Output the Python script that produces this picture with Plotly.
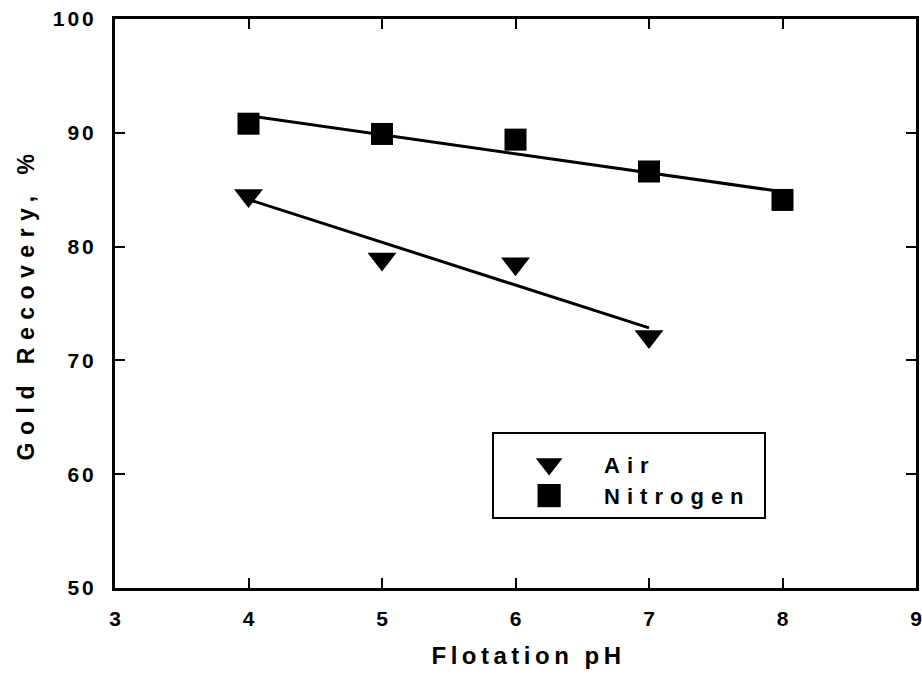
import numpy as np
import plotly.graph_objects as go

ph_air = [4, 5, 6, 7]
rec_air = [84.5, 78.9, 78.5, 72.1]
ph_n2 = [4, 5, 6, 7, 8]
rec_n2 = [90.8, 89.9, 89.4, 86.6, 84.1]

x_ticks = [3, 4, 5, 6, 7, 8, 9]
y_ticks = [50, 60, 70, 80, 90, 100]

FONT = "Liberation Sans, Arial, sans-serif"

fig = go.Figure()

def fit_line(x, y):
    k, b = np.polyfit(x, y, 1)
    xs = np.array([min(x), max(x)], dtype=float)
    return xs, k * xs + b

for x, y in [(ph_air, rec_air), (ph_n2, rec_n2)]:
    fx, fy = fit_line(x, y)
    fig.add_trace(go.Scatter(x=fx, y=fy, mode="lines", showlegend=False,
                             line=dict(color="black", width=3), hoverinfo="skip"))

fig.add_trace(go.Scatter(x=ph_air, y=rec_air, mode="markers", name="Air",
                         marker=dict(symbol="triangle-down", size=25, color="black")))
fig.add_trace(go.Scatter(x=ph_n2, y=rec_n2, mode="markers", name="Nitrogen",
                         marker=dict(symbol="square", size=22, color="black")))

axis_common = dict(showline=True, linecolor="black", linewidth=3, mirror="allticks",
                   ticks="inside", ticklen=10, tickwidth=2, tickcolor="black",
                   showgrid=False, zeroline=False, automargin=False,
                   tickfont=dict(family=FONT, size=21, color="black", weight="bold"))

fig.update_xaxes(range=[3, 9], tickvals=x_ticks, ticklabelstandoff=10,
                 title=dict(text="Flotation pH", standoff=18,
                            font=dict(family=FONT, size=24, color="black", weight="bold")),
                 **axis_common)
fig.update_yaxes(range=[50, 100], tickvals=y_ticks, ticklabelstandoff=11,
                 title=dict(text="Gold Recovery, %", standoff=21,
                            font=dict(family=FONT, size=23, color="black", weight="bold")),
                 **axis_common)

fig.update_layout(
    width=922, height=675,
    margin=dict(l=115, r=6, t=19, b=87),
    plot_bgcolor="white", paper_bgcolor="white",
    legend=dict(x=0.4708, y=0.274, xanchor="left", yanchor="top",
                bordercolor="black", borderwidth=2, bgcolor="white",
                itemwidth=100, tracegroupgap=0,
                title=dict(text=" ", font=dict(size=7)),
                font=dict(family=FONT, size=22, color="black", weight="bold")),
)

post_js = """
(function(){
  var gd = document.getElementById('{plot_id}');
  function sp(sel, px){ gd.querySelectorAll(sel).forEach(function(e){ e.style.letterSpacing = px; }); }
  sp('.xtitle', '4.5px');
  sp('.ytitle', '7.5px');
  sp('.legendtext', '7px');
  sp('.ytick text', '3px');
  gd.querySelectorAll('.xtitle').forEach(function(t){
    t.setAttribute('x', parseFloat(t.getAttribute('x')) + 13);
  });
  gd.querySelectorAll('.legend .scatterpts').forEach(function(p){
    var t = p.getAttribute('transform') || '';
    p.setAttribute('transform', t + ' scale(1.45)');
  });
  var extra = 64;
  gd.querySelectorAll('.legend rect.bg').forEach(function(r){
    r.setAttribute('width', parseFloat(r.getAttribute('width')) + extra);
  });
  document.querySelectorAll('clipPath[id^="legend"] rect').forEach(function(r){
    r.setAttribute('width', parseFloat(r.getAttribute('width')) + extra);
  });
})();
"""

fig.write_html("out.html", post_script=post_js)
